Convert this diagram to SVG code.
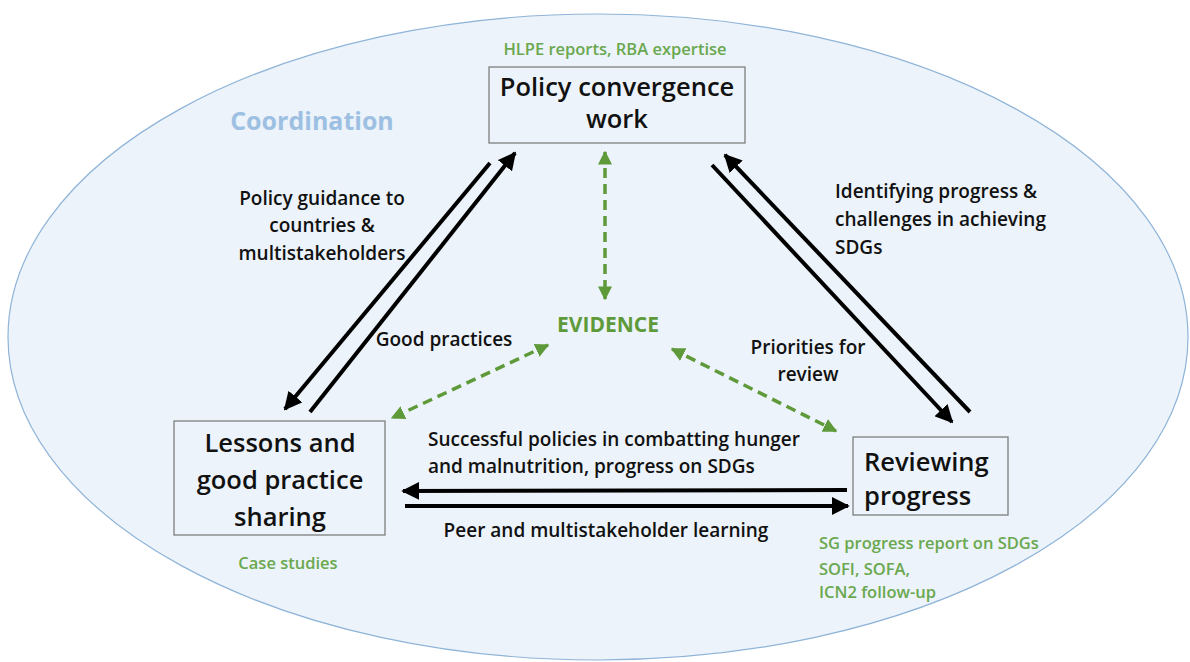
<svg xmlns="http://www.w3.org/2000/svg" width="1190" height="662" viewBox="0 0 1190 662">
<defs>
<style>
.t{font-family:"Open Sans","Liberation Sans",sans-serif;font-weight:600;fill:#111}
.lab{font-size:19px}
.title{font-size:25.5px}
.g{font-family:"Open Sans","Liberation Sans",sans-serif;font-weight:600;fill:#6aa84f;font-size:16.5px}
.box{fill:none;stroke:#7f7f7f;stroke-width:1.3}
.blk{stroke:#000;stroke-width:4;fill:none}
.grn{stroke:#5f9a3a;stroke-width:3.5;fill:none;stroke-dasharray:10,6}
</style>
<marker id="ab" viewBox="0 0 10 10" refX="9" refY="5" markerWidth="4.5" markerHeight="4.5" orient="auto-start-reverse" markerUnits="strokeWidth">
<path d="M0,0 L10,5 L0,10 z" fill="#000"/>
</marker>
<marker id="ag" viewBox="0 0 10 10" refX="9" refY="5" markerWidth="4" markerHeight="4" orient="auto-start-reverse" markerUnits="strokeWidth">
<path d="M0,0 L10,5 L0,10 z" fill="#5f9a3a"/>
</marker>
</defs>
<rect width="1190" height="662" fill="#fff"/>
<g id="coordination">
<ellipse cx="598" cy="337" rx="590" ry="323" fill="#ecf3fa" stroke="#8fb4d8" stroke-width="1.2"/>
<text x="312" y="130" text-anchor="middle" font-family="Open Sans, Liberation Sans, sans-serif" font-weight="700" font-size="25" fill="#9dc0e2">Coordination</text>
</g>
<g id="connectors">
<line class="blk" x1="310" y1="412" x2="515" y2="153" marker-end="url(#ab)"/>
<line class="blk" x1="490" y1="163" x2="285" y2="409" marker-end="url(#ab)"/>
<line class="blk" x1="970" y1="412" x2="725" y2="155" marker-end="url(#ab)"/>
<line class="blk" x1="712" y1="165" x2="952" y2="422" marker-end="url(#ab)"/>
<line class="blk" x1="847" y1="490" x2="403" y2="491" marker-end="url(#ab)"/>
<line class="blk" x1="405" y1="506" x2="848" y2="506" marker-end="url(#ab)"/>
<line class="grn" x1="605" y1="152" x2="605" y2="299" marker-start="url(#ag)" marker-end="url(#ag)"/>
<line class="grn" x1="548" y1="345" x2="392" y2="418" marker-start="url(#ag)" marker-end="url(#ag)"/>
<line class="grn" x1="672" y1="349" x2="836" y2="431" marker-start="url(#ag)" marker-end="url(#ag)"/>
<text class="t lab" x="322" y="205" text-anchor="middle">Policy guidance to</text>
<text class="t lab" x="322" y="232" text-anchor="middle">countries &amp;</text>
<text class="t lab" x="322" y="260" text-anchor="middle">multistakeholders</text>
<text class="t lab" x="444" y="346" text-anchor="middle">Good practices</text>
<text class="t lab" x="835" y="198">Identifying progress &amp;</text>
<text class="t lab" x="835" y="226">challenges in achieving</text>
<text class="t lab" x="835" y="254">SDGs</text>
<text class="t lab" x="808" y="354" text-anchor="middle">Priorities for</text>
<text class="t lab" x="808" y="381" text-anchor="middle">review</text>
<text class="t lab" x="428" y="446">Successful policies in combatting hunger</text>
<text class="t lab" x="428" y="473">and malnutrition, progress on SDGs</text>
<text class="t lab" x="606" y="537" text-anchor="middle">Peer and multistakeholder learning</text>
</g>
<g id="evidence">
<text x="608" y="332" text-anchor="middle" font-family="Open Sans, Liberation Sans, sans-serif" font-weight="700" font-size="21" fill="#5f9a3a">EVIDENCE</text>
</g>
<g id="policy">
<rect class="box" x="489" y="67" width="256" height="76"/>
<text class="t title" x="617" y="96" text-anchor="middle">Policy convergence</text>
<text class="t title" x="617" y="128" text-anchor="middle">work</text>
<text class="g" x="615" y="55" text-anchor="middle">HLPE reports, RBA expertise</text>
</g>
<g id="lessons">
<rect class="box" x="174" y="421" width="211" height="114"/>
<text class="t title" x="280" y="452" text-anchor="middle">Lessons and</text>
<text class="t title" x="280" y="489" text-anchor="middle">good practice</text>
<text class="t title" x="280" y="526" text-anchor="middle">sharing</text>
<text class="g" x="288" y="569" text-anchor="middle">Case studies</text>
</g>
<g id="reviewing">
<rect class="box" x="853" y="437" width="155" height="78"/>
<text class="t title" x="864" y="471">Reviewing</text>
<text class="t title" x="864" y="505">progress</text>
<text class="g" x="819" y="549">SG progress report on SDGs</text>
<text class="g" x="819" y="575">SOFI, SOFA,</text>
<text class="g" x="819" y="598">ICN2 follow-up</text>
</g>
</svg>
